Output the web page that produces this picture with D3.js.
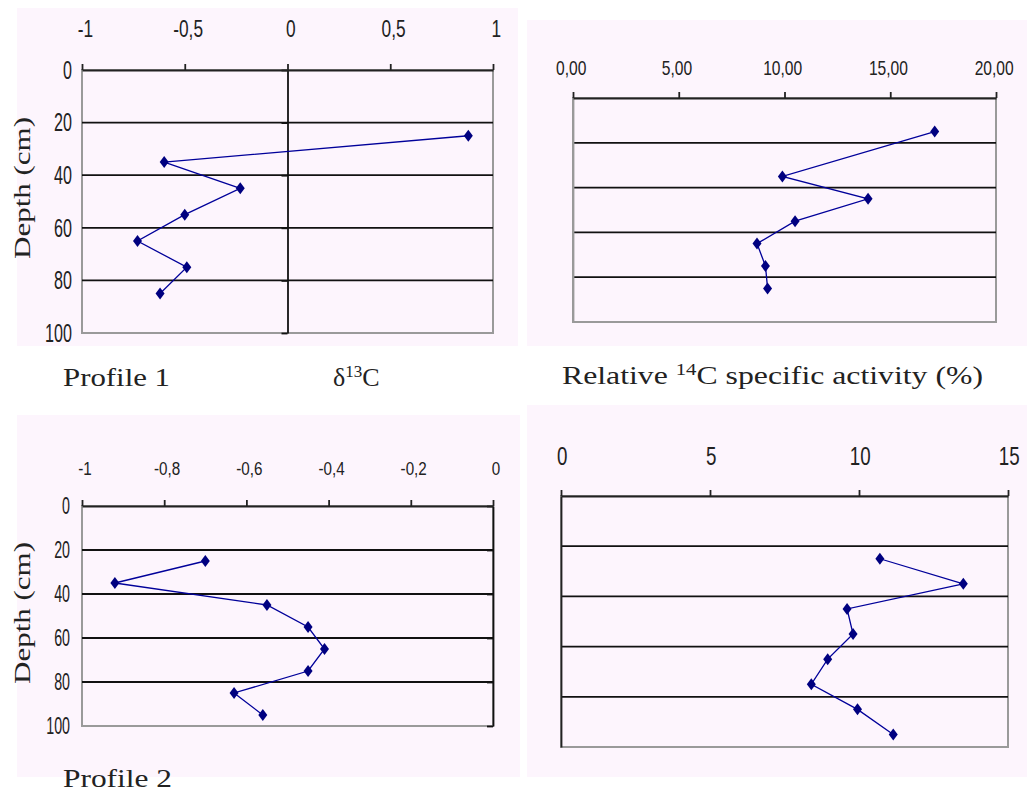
<!DOCTYPE html>
<html>
<head>
<meta charset="utf-8">
<script src="https://cdn.jsdelivr.net/npm/d3@7"></script>
<style>
  body { margin: 0; background: #ffffff; }
  svg { display: block; }
</style>
</head>
<body>
<svg id="chart" width="1027" height="794"></svg>
<script>
var depthP1 = [25, 35, 45, 55, 65, 75, 85];
var d13cP1 = [0.88, -0.60, -0.23, -0.50, -0.73, -0.49, -0.62];
var depthP1c14 = [15, 35, 45, 55, 65, 75, 85];
var c14P1 = [17.1, 9.9, 13.95, 10.5, 8.7, 9.1, 9.2];
var depthP2 = [25, 35, 45, 55, 65, 75, 85, 95];
var d13cP2 = [-0.70, -0.92, -0.55, -0.45, -0.41, -0.45, -0.63, -0.56];
var c14P2 = [10.7, 13.5, 9.6, 9.8, 8.95, 8.4, 9.95, 11.15];

// tick values / labels
var depthTicks = [0, 20, 40, 60, 80, 100];
var gridTicks = [20, 40, 60, 80];
var ticksP1d13 = [-1, -0.5, 0, 0.5, 1];
var labelsP1d13 = ["-1", "-0,5", "0", "0,5", "1"];
var ticksP1c14 = [0, 5, 10, 15, 20];
var labelsP1c14 = ["0,00", "5,00", "10,00", "15,00", "20,00"];
var ticksP2d13 = [-1, -0.8, -0.6, -0.4, -0.2, 0];
var labelsP2d13 = ["-1", "-0,8", "-0,6", "-0,4", "-0,2", "0"];
var ticksP2c14 = [0, 5, 10, 15];
var labelsP2c14 = ["0", "5", "10", "15"];

var svg = d3.select("#chart");
var pink = "#fdf5fd";
var navy = "#000080";

function drawPanel(p) {
  // panel background
  svg.append("rect")
    .attr("x", p.bg[0]).attr("y", p.bg[1])
    .attr("width", p.bg[2]).attr("height", p.bg[3])
    .attr("fill", pink);

  var x = d3.scaleLinear().domain(p.xDomain).range([p.left, p.right]);
  var y = d3.scaleLinear().domain([0, 100]).range([p.top, p.bottom]);

  var g = svg.append("g");

  // plot border
  g.append("rect")
    .attr("x", p.left).attr("y", p.top)
    .attr("width", p.right - p.left).attr("height", p.bottom - p.top)
    .attr("fill", "none").attr("stroke", "#9a9a9a").attr("stroke-width", 2);

  // horizontal gridlines
  g.selectAll(".grid")
    .data(gridTicks)
    .enter()
    .append("line")
    .attr("x1", p.left).attr("x2", p.right)
    .attr("y1", function(d) { return y(d); })
    .attr("y2", function(d) { return y(d); })
    .attr("stroke", "#111").attr("stroke-width", 1.8);

  // vertical axis crossing at x = 0
  var yAxis = g.append("g")
    .attr("transform", "translate(" + x(0) + ",0)")
    .call(d3.axisLeft(y).tickValues(depthTicks).tickSize(p.yTick).tickSizeOuter(0).tickFormat(""));
  yAxis.selectAll("path,line").attr("stroke", p.yAxisColor).attr("stroke-width", 1.8);

  // depth labels on the left
  if (p.depthLabels) {
    var yl = g.append("g")
      .attr("transform", "translate(" + p.depthLabelX + ",0)")
      .call(d3.axisLeft(y).tickValues(depthTicks).tickSize(0).tickPadding(0));
    yl.select(".domain").remove();
    yl.selectAll("text")
      .attr("font-family", "Liberation Sans, Arial, sans-serif")
      .attr("font-size", p.yFont + "px")
      .attr("fill", "#222")
      .attr("transform", "scale(0.62,1)");
  }

  // top value axis
  var xa = g.append("g")
    .attr("transform", "translate(0," + p.top + ")")
    .call(d3.axisTop(x).tickValues(p.xTicks).tickSize(6).tickSizeOuter(0)
      .tickFormat(function(d, i) { return p.xLabels[i]; }));
  xa.selectAll("path,line").attr("stroke", "#222").attr("stroke-width", 1.8);
  xa.selectAll("text")
    .attr("y", p.labelY)
    .attr("dx", p.labelDx)
    .attr("font-family", "Liberation Sans, Arial, sans-serif")
    .attr("font-size", p.xFont + "px")
    .attr("fill", "#222")
    .attr("transform", "scale(" + p.xScaleX + ",1)");

  // profile line
  var pts = p.depths.map(function(d, i) { return [p.values[i], d]; });
  g.append("path")
    .datum(pts)
    .attr("fill", "none")
    .attr("stroke", "#00009a")
    .attr("stroke-width", 1.3)
    .attr("d", d3.line().x(function(d) { return x(d[0]); }).y(function(d) { return y(d[1]); }));

  // diamond markers
  g.selectAll(".pt")
    .data(pts)
    .enter()
    .append("path")
    .attr("d", "M0,-6L4.5,0L0,6L-4.5,0Z")
    .attr("transform", function(d) { return "translate(" + x(d[0]) + "," + y(d[1]) + ")"; })
    .attr("fill", navy);
}

drawPanel({
  bg: [17, 8, 501, 338],
  left: 82, right: 493, top: 70, bottom: 333,
  xDomain: [-1, 1], xTicks: ticksP1d13, xLabels: labelsP1d13,
  xFont: 24, xScaleX: 0.72, labelY: -33, labelDx: 4,
  depthLabels: true, depthLabelX: 72, yFont: 26,
  yAxisColor: "#111", yTick: 6,
  depths: depthP1, values: d13cP1
});

drawPanel({
  bg: [527, 20, 500, 326],
  left: 573, right: 996, top: 98, bottom: 322,
  xDomain: [0, 20], xTicks: ticksP1c14, xLabels: labelsP1c14,
  xFont: 20, xScaleX: 0.78, labelY: -23, labelDx: -3,
  depthLabels: false,
  yAxisColor: "#9a9a9a", yTick: 0,
  depths: depthP1c14, values: c14P1
});

drawPanel({
  bg: [17, 415, 503, 362],
  left: 82, right: 493, top: 506, bottom: 726,
  xDomain: [-1, 0], xTicks: ticksP2d13, xLabels: labelsP2d13,
  xFont: 19, xScaleX: 0.8, labelY: -31, labelDx: 3,
  depthLabels: true, depthLabelX: 70, yFont: 23,
  yAxisColor: "#111", yTick: 6,
  depths: depthP2, values: d13cP2
});

drawPanel({
  bg: [527, 405, 500, 372],
  left: 561, right: 1008, top: 496, bottom: 747,
  xDomain: [0, 15], xTicks: ticksP2c14, xLabels: labelsP2c14,
  xFont: 25, xScaleX: 0.75, labelY: -31, labelDx: 1,
  depthLabels: false,
  yAxisColor: "#222", yTick: 0,
  depths: depthP2, values: c14P2
});

// text labels (serif, stretched like the original)
var serif = "Liberation Serif, Times New Roman, serif";

function depthTitle(cx, cy) {
  svg.append("text")
    .attr("transform", "translate(" + cx + "," + cy + ") rotate(-90)")
    .attr("text-anchor", "middle")
    .attr("font-family", serif)
    .attr("font-size", "24px")
    .attr("fill", "#222")
    .attr("textLength", 142)
    .attr("lengthAdjust", "spacingAndGlyphs")
    .text("Depth (cm)");
}
depthTitle(30, 188);
depthTitle(30, 613);

svg.append("text")
  .attr("x", 63).attr("y", 386)
  .attr("font-family", serif).attr("font-size", "26px").attr("fill", "#222")
  .attr("textLength", 107).attr("lengthAdjust", "spacingAndGlyphs")
  .text("Profile 1");

svg.append("text")
  .attr("x", 63).attr("y", 787)
  .attr("font-family", serif).attr("font-size", "25px").attr("fill", "#222")
  .attr("textLength", 109).attr("lengthAdjust", "spacingAndGlyphs")
  .text("Profile 2");

var d13 = svg.append("text")
  .attr("x", 333).attr("y", 386)
  .attr("font-family", serif).attr("font-size", "26px").attr("fill", "#222");
d13.append("tspan").text("\u03b4");
d13.append("tspan").attr("font-size", "17px").attr("dy", -9).text("13");
d13.append("tspan").attr("dy", 9).text("C");

var rel = svg.append("text")
  .attr("x", 562).attr("y", 384)
  .attr("font-family", serif).attr("font-size", "26px").attr("fill", "#222")
  .attr("textLength", 421).attr("lengthAdjust", "spacingAndGlyphs");
rel.append("tspan").text("Relative ");
rel.append("tspan").attr("font-size", "17px").attr("dy", -9).text("14");
rel.append("tspan").attr("dy", 9).text("C specific activity (%)");
</script>
</body>
</html>
